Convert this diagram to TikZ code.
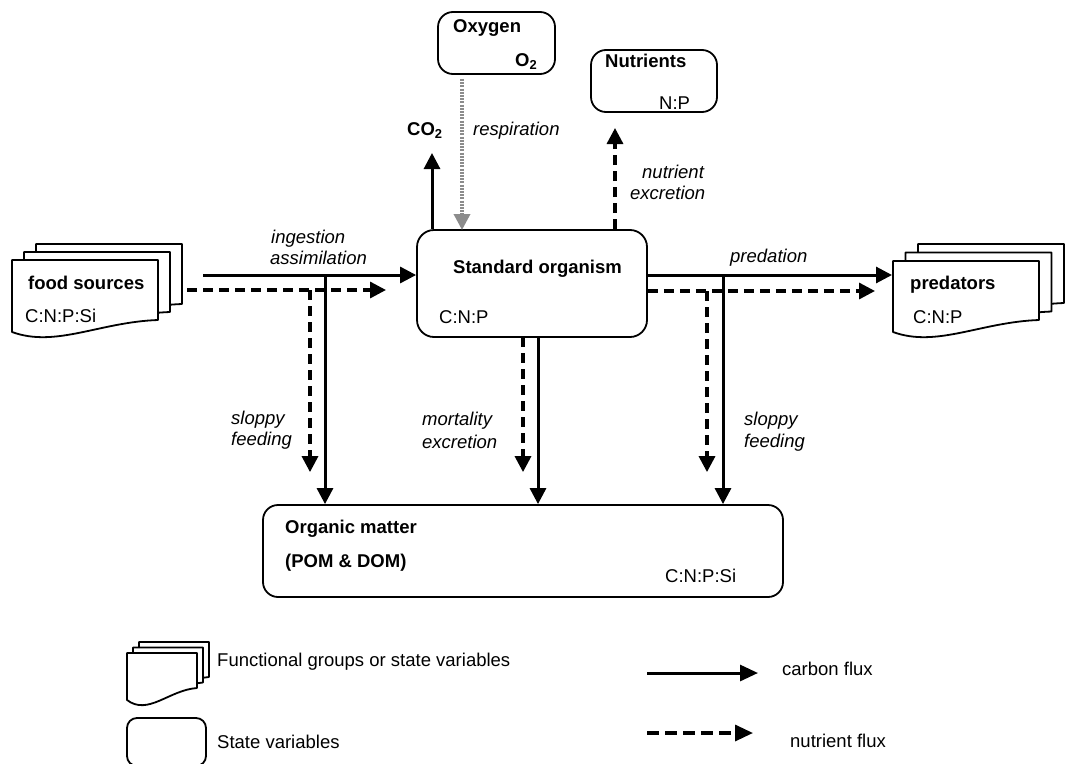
\documentclass[tikz,border=0pt]{standalone}
\usepackage{fontspec}
\setmainfont{Liberation Sans}
\usetikzlibrary{arrows.meta,calc}

\tikzset{
  flux/.style={line width=3pt,-{Triangle[length=16pt,width=16pt]}},
  carbon/.style={flux},
  nutrient/.style={flux,line width=3.3pt,dash pattern=on 10pt off 6pt},
  resp/.style={flux,gray!90,line width=3.5pt,dash pattern=on 2pt off 1.2pt},
  box/.style={draw,line width=1.8pt,rounded corners=15pt,inner sep=0pt},
  lab/.style={inner sep=0pt,anchor=base west,font=\fontsize{18.5}{22}\selectfont},
  blab/.style={lab,font=\fontsize{18.5}{22}\selectfont\bfseries},
  ilab/.style={lab,font=\fontsize{18.5}{22}\selectfont\itshape},
}

% one sheet: x y width height
\newcommand{\sheet}[4]{%
  \filldraw[fill=white,line width=1.8pt,line join=round] (#1,#2) -- ++(#3,0) -- ++(0,#4-12)
    .. controls +(-0.4*#3,2) and +(0.3*#3,16) .. ++(-#3,12) -- cycle;}
% pile of three sheets: x y width height dx dy
\newcommand{\docstack}[6]{%
  \foreach \k in {2,1,0} {\sheet{#1+\k*#5}{#2-\k*#6}{#3}{#4}}}

\begin{document}
\begin{tikzpicture}[x=1pt,y=-1pt]
  \useasboundingbox (0,0) rectangle (1065,763);
  % functional groups
  \docstack{12}{260}{146}{72}{12}{8}
  \docstack{893}{261}{146}{71}{12.5}{8.5}
  % state variables
  \node[box,minimum width=117pt,minimum height=62pt] (oxy) at (496.5,43) {};
  \node[box,minimum width=126pt,minimum height=62pt] (nut) at (654,81) {};
  \node[box,rounded corners=17pt,minimum width=230pt,minimum height=107pt] (std) at (532,283.5) {};
  \node[box,minimum width=520pt,minimum height=92pt] (om) at (523,551) {};
  % horizontal fluxes
  \coordinate (fd-c) at (203,275);
  \coordinate (fd-n) at (187,290);
  \coordinate (st-n) at (386,290);
  \coordinate (pr-c) at (892,275);
  \coordinate (pr-n) at (875,291);
  \draw[carbon] (fd-c) -- (fd-c -| std.west);
  \draw[nutrient] (fd-n) -- (st-n);
  \draw[carbon] (pr-c -| std.east) -- (pr-c);
  \draw[nutrient] (pr-n -| std.east) -- (pr-n);
  % fluxes up
  \coordinate (co2) at (432,153);
  \coordinate (resp) at (462,230);
  \coordinate (nex) at (615,128);
  \draw[carbon] (co2 |- std.north) -- (co2);
  \draw[resp] ($(oxy.south -| resp)+(0,4)$) -- (resp);
  \draw[nutrient] (nex |- std.north) -- (nex);
  % fluxes down to organic matter
  \foreach \xs/\xn/\ys/\yn [count=\i] in {325/310/275/290,538/523/337/337,723/707/275/291} {
    \coordinate (dc\i) at (\xs,\ys);
    \coordinate (dn\i) at (\xn,\yn);
    \draw[carbon] (dc\i) -- (dc\i |- om.north);
    \draw[nutrient] (dn\i) -- ($(dn\i |- om.north)+(0,-32)$);
  }
  % texts
  \foreach \x/\y/\t [count=\i] in {28/289/food sources,910/289/predators,453/32/Oxygen,
      515/66/O\textsubscript{2},605/67/Nutrients,407/135/CO\textsubscript{2},
      453/273/Standard organism,285/533/Organic matter,285/567/(POM \& DOM)}
    \node[blab] (bt\i) at (\x,\y) {\t};
  \foreach \x/\y/\t [count=\i] in {25/322/C:N:P:Si,913/323/C:N:P,659/109/N:P,
      439/323/C:N:P,665/582/C:N:P:Si}
    \node[lab] (rt\i) at (\x,\y) {\t};
  \foreach \x/\y/\t [count=\i] in {271/243/ingestion,270/264/assimilation,730/262/predation,
      473/135/respiration,642/178/nutrient,630/199/excretion,231/424/sloppy,231/445/feeding,
      422/425/mortality,422/448/excretion,744/425/sloppy,744/447/feeding}
    \node[ilab] (it\i) at (\x,\y) {\t};
  % legend
  \docstack{127}{653}{70}{47}{6}{5.5}
  \node[box,rounded corners=10pt,minimum width=79pt,minimum height=48pt] (leg-sv) at (166.5,742) {};
  \coordinate (lc-a) at (647,673);
  \coordinate (lc-b) at (758,673);
  \coordinate (ln-a) at (647,733);
  \coordinate (ln-b) at (753,733);
  \draw[carbon,-{Triangle[length=18pt,width=16pt]}] (lc-a) -- (lc-b);
  \draw[nutrient,dash pattern=on 12pt off 6pt,-{Triangle[length=18pt,width=16pt]}] (ln-a) -- (ln-b);
  \node[lab] (leg-fg) at (217,666) {Functional groups or state variables};
  \node[lab] (leg-st) at (217,748) {State variables};
  \node[lab] (leg-c) at (782,675) {carbon flux};
  \node[lab] (leg-n) at (790,747) {nutrient flux};
\end{tikzpicture}
\end{document}
